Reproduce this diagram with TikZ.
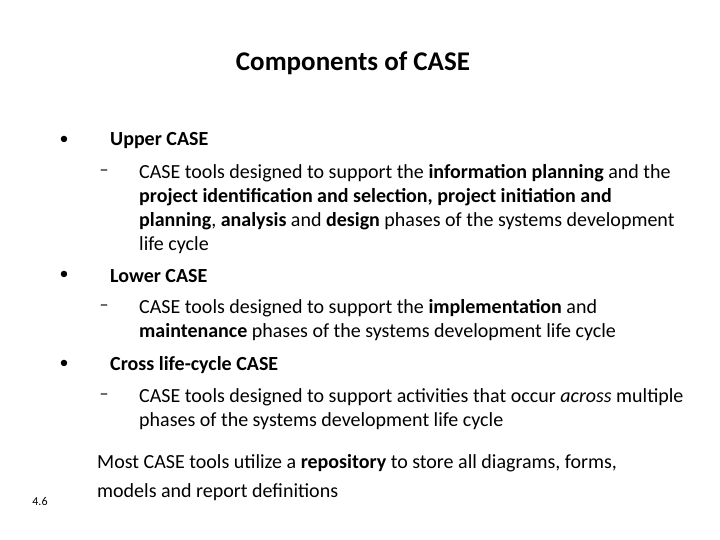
\documentclass[tikz,border=0pt]{standalone}
\usepackage{fontspec}
\setmainfont{Carlito}
\begin{document}
\begin{tikzpicture}[x=1pt,y=-1pt,
 ln/.style={anchor=west,inner sep=0,font=\fontsize{20}{24}\selectfont},
 hd/.style={anchor=west,inner sep=0,font=\fontsize{20}{24}\selectfont\bfseries},
 bul/.style={inner sep=0,font=\fontsize{18}{20}\selectfont}]
\useasboundingbox[fill=white] (0,0) rectangle (720,540);
\node[inner sep=0,font=\fontsize{27}{30}\selectfont\bfseries] (t) at (353,63) {Components of CASE};
\node[bul] (b1) at (64,140) {•};
\node[hd] (h1) at (110,141) {Upper CASE};
\node[bul] (d1) at (104,173) {–};
\node[ln] (l1) at (139,173) {CASE tools designed to support the \textbf{information planning} and the};
\node[ln] (l2) at (139,197) {\textbf{project identification and selection, project initiation and}};
\node[ln] (l3) at (139,221) {\textbf{planning}, \textbf{analysis} and \textbf{design} phases of the systems development};
\node[ln] (l4) at (139,245) {life cycle};
\node[bul] (b2) at (64,275) {•};
\node[hd] (h2) at (110,276) {Lower CASE};
\node[bul] (d2) at (104,308) {–};
\node[ln] (l5) at (139,308) {CASE tools designed to support the \textbf{implementation} and};
\node[ln] (l6) at (139,332) {\textbf{maintenance} phases of the systems development life cycle};
\node[bul] (b3) at (64,364) {•};
\node[hd] (h3) at (110,365) {Cross life-cycle CASE};
\node[bul] (d3) at (104,397) {–};
\node[ln] (l7) at (139,397) {CASE tools designed to support activities that occur \textit{across} multiple};
\node[ln] (l8) at (139,421) {phases of the systems development life cycle};
\node[ln] (m1) at (97,463) {Most CASE tools utilize a \textbf{repository} to store all diagrams, forms,};
\node[ln] (m2) at (97,492) {models and report definitions};
\node[inner sep=0,font=\fontsize{12}{14}\selectfont] (n) at (40,501) {4.6};
\end{tikzpicture}
\end{document}
